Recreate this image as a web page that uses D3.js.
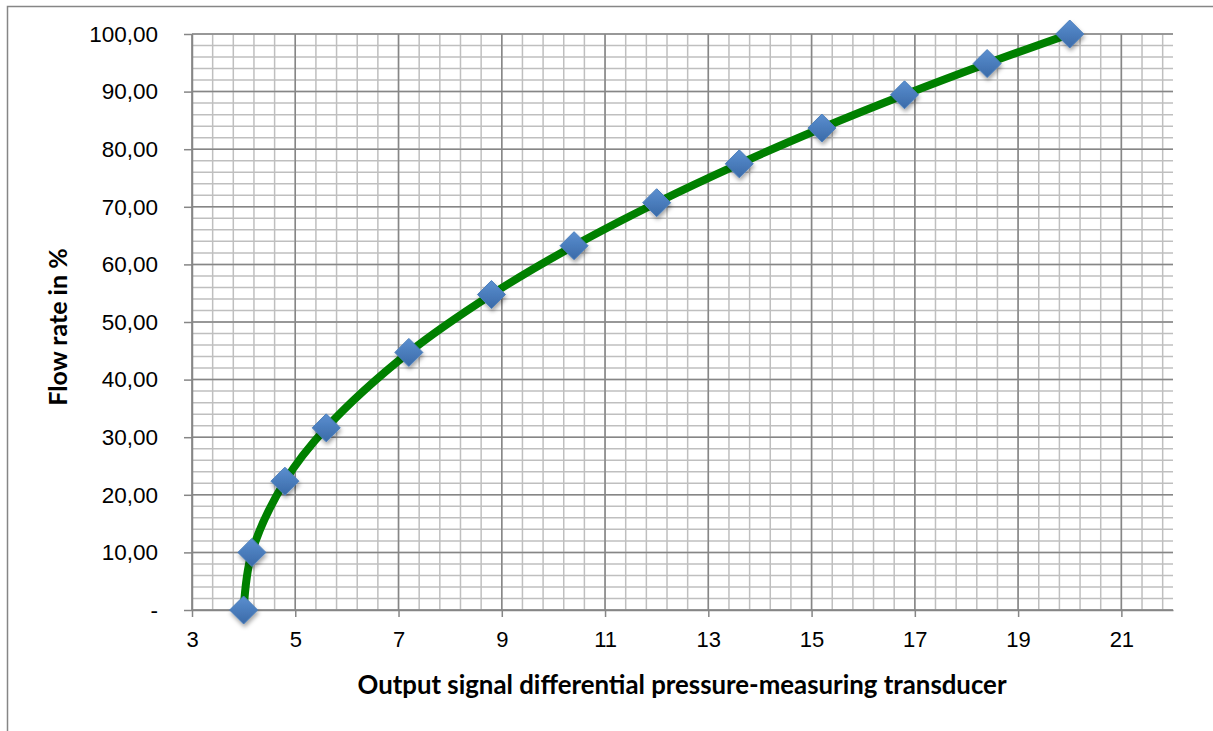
<!DOCTYPE html>
<html>
<head>
<meta charset="utf-8">
<script src="https://cdn.jsdelivr.net/npm/d3@7"></script>
<style>
  body { margin: 0; background: #fff; }
  svg { font-family: Lato, "Open Sans", sans-serif; }
</style>
</head>
<body>
<div id="chart"></div>
<script>
// signal (mA) vs flow rate (%)
var signal = [4, 4.16, 4.8, 5.6, 7.2, 8.8, 10.4, 12, 13.6, 15.2, 16.8, 18.4, 20];
var flow = [0, 10, 22.36, 31.62, 44.72, 54.77, 63.25, 70.71, 77.46, 83.67, 89.44, 94.87, 100];
var xTicks = [3, 5, 7, 9, 11, 13, 15, 17, 19, 21];
var yTicks = [0, 10, 20, 30, 40, 50, 60, 70, 80, 90, 100];

var width = 1213, height = 731;
var margin = { top: 34, right: 40, bottom: 121, left: 192 };

var svg = d3.select("#chart").append("svg")
    .attr("width", width)
    .attr("height", height);

var defs = svg.append("defs");
var grad = defs.append("linearGradient")
    .attr("id", "mk").attr("x1", 0).attr("y1", 0).attr("x2", 0).attr("y2", 1);
grad.append("stop").attr("offset", "0%").attr("stop-color", "#5b8fd0");
grad.append("stop").attr("offset", "100%").attr("stop-color", "#3a6aa8");
var sh = defs.append("filter").attr("id", "sh")
    .attr("x", "-50%").attr("y", "-50%").attr("width", "200%").attr("height", "200%");
sh.append("feDropShadow").attr("dx", 1).attr("dy", 3).attr("stdDeviation", 2)
    .attr("flood-color", "#000").attr("flood-opacity", 0.35);

// outer chart border (only top/left visible)
svg.append("rect")
    .attr("x", 7.5).attr("y", 6.5)
    .attr("width", width + 20).attr("height", height + 20)
    .attr("fill", "none").attr("stroke", "#868686").attr("stroke-width", 1.5);

var x = d3.scaleLinear()
    .domain([3, 22])
    .range([margin.left, width - margin.right]);

var y = d3.scaleLinear()
    .domain([0, 100])
    .range([height - margin.bottom, margin.top]);

// minor grid
var grid = svg.append("g");
grid.selectAll(".vx")
    .data(d3.range(3, 22.001, 0.4))
    .join("line")
    .attr("x1", (d) => x(d)).attr("x2", (d) => x(d))
    .attr("y1", y(0)).attr("y2", y(100))
    .attr("stroke", "#bfbfbf").attr("stroke-width", 1.5);
grid.selectAll(".hy")
    .data(d3.range(0, 100.001, 2))
    .join("line")
    .attr("y1", (d) => y(d)).attr("y2", (d) => y(d))
    .attr("x1", x(3)).attr("x2", x(22))
    .attr("stroke", "#bfbfbf").attr("stroke-width", 1.5);

// major grid
grid.selectAll(".mx")
    .data(xTicks)
    .join("line")
    .attr("x1", (d) => x(d)).attr("x2", (d) => x(d))
    .attr("y1", y(0)).attr("y2", y(100))
    .attr("stroke", "#868686").attr("stroke-width", 1.5);
grid.selectAll(".my")
    .data(yTicks)
    .join("line")
    .attr("y1", (d) => y(d)).attr("y2", (d) => y(d))
    .attr("x1", x(3)).attr("x2", x(22))
    .attr("stroke", "#868686").attr("stroke-width", 1.5);

var fmt = (d) => (d === 0 ? "-" : d3.format(".2f")(d).replace(".", ","));

var xAxis = (g) =>
    g
        .attr("transform", `translate(0,${y(0)})`)
        .attr("font-family", null)
        .call(d3.axisBottom(x).tickValues(xTicks).tickSize(7).tickPadding(14).tickSizeOuter(0))
        .call((g) => g.select(".domain").attr("stroke", "#868686").attr("stroke-width", 1.5))
        .call((g) => g.selectAll(".tick line").attr("stroke", "#868686").attr("stroke-width", 1.5))
        .call((g) => g.selectAll(".tick text").attr("fill", "#000").style("font-size", "22px"));

var yAxis = (g) =>
    g
        .attr("transform", `translate(${x(3)},0)`)
        .attr("font-family", null)
        .call(d3.axisLeft(y).tickValues(yTicks).tickFormat(fmt).tickSize(8).tickPadding(26).tickSizeOuter(0))
        .call((g) => g.select(".domain").attr("stroke", "#868686").attr("stroke-width", 1.5))
        .call((g) => g.selectAll(".tick line").attr("stroke", "#868686").attr("stroke-width", 1.5))
        .call((g) => g.selectAll(".tick text").attr("fill", "#000").style("font-size", "22.5px"));

svg.append("g").call(xAxis);
svg.append("g").call(yAxis);

var pts = signal.map((s, i) => [s, flow[i]]);

var line = d3.line()
    .x((d) => x(d[0]))
    .y((d) => y(d[1]))
    .curve(d3.curveCatmullRom.alpha(0.5));

svg.append("path")
    .datum(pts)
    .attr("d", line)
    .attr("fill", "none")
    .attr("stroke", "#008000")
    .attr("stroke-width", 8)
    .attr("stroke-linejoin", "round");

svg.append("g")
    .selectAll("path")
    .data(pts)
    .join("path")
    .attr("transform", (d) => `translate(${x(d[0])},${y(d[1])})`)
    .attr("d", "M0,-14L14,0L0,14L-14,0Z")
    .attr("fill", "url(#mk)")
    .attr("stroke", "#4a7ebb")
    .attr("stroke-width", 1)
    .attr("filter", "url(#sh)");

// axis titles
svg.append("text")
    .attr("x", 682)
    .attr("y", 694)
    .attr("text-anchor", "middle")
    .attr("font-weight", "bold")
    .style("font-size", "25.8px")
    .text("Output signal differential pressure-measuring transducer");

svg.append("text")
    .attr("transform", "translate(67,327) rotate(-90)")
    .attr("text-anchor", "middle")
    .attr("font-weight", "bold")
    .style("font-size", "25px")
    .text("Flow rate in %");
</script>
</body>
</html>
